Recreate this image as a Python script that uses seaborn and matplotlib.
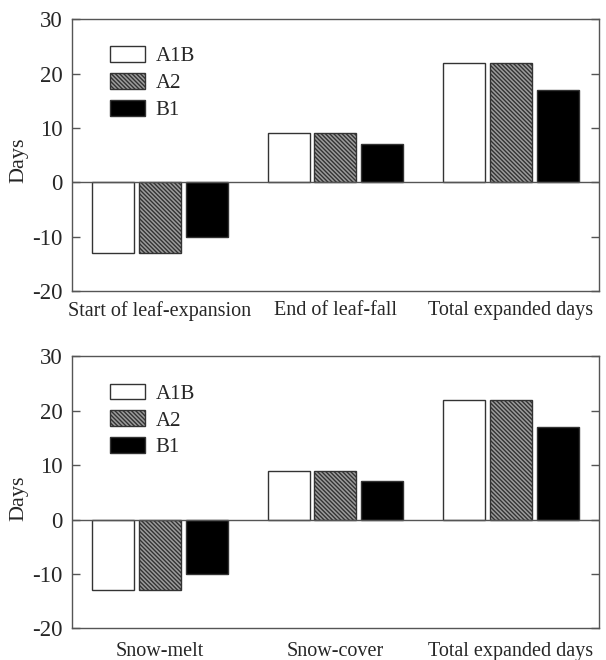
import matplotlib
matplotlib.use('Agg')
import matplotlib.pyplot as plt
import seaborn as sns
import pandas as pd

scenarios = ['A1B', 'A2', 'B1']
cats_top = ['Start of leaf-expansion', 'End of leaf-fall', 'Total expanded days']
cats_bot = ['Snow-melt', 'Snow-cover', 'Total expanded days']
vals_a1b = [-13, 9, 22]
vals_a2 = [-13, 9, 22]
vals_b1 = [-10, 7, 17]
yticks = [-20, -10, 0, 10, 20, 30]

sns.set_style('white')
plt.rcParams['font.family'] = ['Liberation Serif', 'DejaVu Serif']
plt.rcParams['axes.unicode_minus'] = False
plt.rcParams['hatch.color'] = '#222222'
plt.rcParams['hatch.linewidth'] = 1.0

def make_df(cats):
    rows = []
    for s, vals in zip(scenarios, [vals_a1b, vals_a2, vals_b1]):
        for c, v in zip(cats, vals):
            rows.append({'cat': c, 'scen': s, 'days': v})
    return pd.DataFrame(rows)

fig = plt.figure(figsize=(6.06, 6.6), dpi=100)
ax1 = fig.add_axes([0.119, 0.559, 0.869, 0.412])
ax2 = fig.add_axes([0.119, 0.048, 0.869, 0.412])

edge = '#333333'
for ax, cats, xpad in [(ax1, cats_top, 7), (ax2, cats_bot, 10)]:
    df = make_df(cats)
    sns.barplot(data=df, x='cat', y='days', hue='scen', order=cats, hue_order=scenarios,
                palette=['white', '#9c9c9c', 'black'], width=0.8, gap=0.1,
                edgecolor=edge, linewidth=1.0, ax=ax, legend=False)
    for bar in ax.containers[1]:
        bar.set_hatch('\\\\\\\\\\\\\\\\')
    ax.axhline(0, color='#555555', lw=1.0, zorder=5)
    ax.set_ylim(-20, 30)
    ax.set_xlim(-0.5, 2.5)
    ax.set_yticks(yticks)
    ax.set_xlabel('')
    ax.set_ylabel('Days', fontsize=16)
    ax.yaxis.set_label_coords(-0.083, 0.48)
    ax.tick_params(axis='y', direction='in', length=6, width=1, color='#555555',
                   labelsize=16.5, right=True, left=True, pad=7)
    ax.tick_params(axis='x', length=0, labelsize=14.5, pad=xpad)
    for sp in ax.spines.values():
        sp.set_color('#555555')
        sp.set_linewidth(1.0)
    ax.legend(ax.containers, scenarios, loc='upper left', bbox_to_anchor=(0.072, 0.9),
              frameon=False, fontsize=15, handlelength=1.7, handleheight=0.77,
              labelspacing=0.33, handletextpad=0.5, borderpad=0, borderaxespad=0)

fig.savefig('out.png', dpi=100)
